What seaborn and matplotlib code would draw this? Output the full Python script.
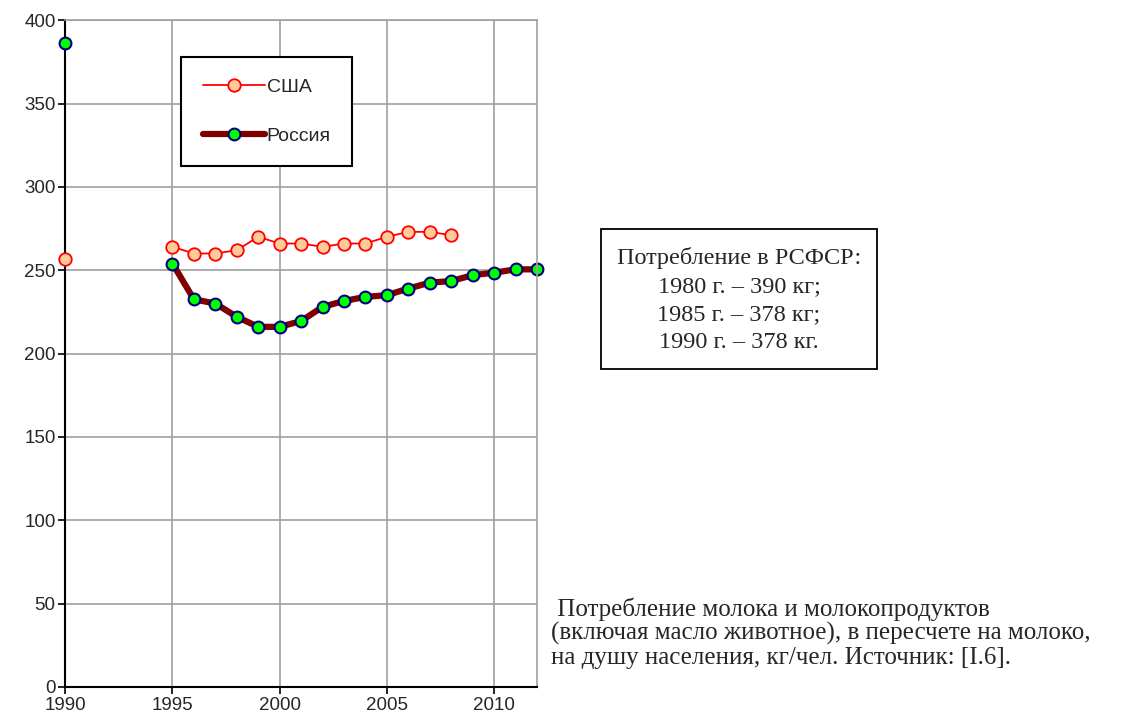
import numpy as np
import pandas as pd
import matplotlib
matplotlib.use("Agg")
import matplotlib.pyplot as plt
import seaborn as sns
from matplotlib.patches import Rectangle

years = [1990] + list(range(1995, 2013))
usa = [257, 264, 260, 260, 262, 270, 266, 266, 264, 266, 266, 270, 273, 273, 271,
       np.nan, np.nan, np.nan, np.nan]
russia = [386, 254, 232.5, 230, 222, 216, 216, 219.5, 228, 231.5, 234, 235, 239,
          242.5, 243.5, 247, 248.5, 250.5, 250.5]

df = pd.DataFrame({"year": years, "США": usa, "Россия": russia})
later = df[df["year"] >= 1995]
first = df[df["year"] == 1990]

sns.set_style("whitegrid")
plt.rcParams["font.family"] = ["Liberation Sans", "DejaVu Sans"]

fig = plt.figure(figsize=(11.45, 7.2), dpi=100)
ax = fig.add_axes([0.057, 0.046, 0.412, 0.926])

usa_kw = dict(color="red", lw=1.3, marker="o", markersize=9,
              markerfacecolor="#FFCC99", markeredgecolor="red", markeredgewidth=1.3)
rus_kw = dict(color="#800000", lw=4.5, marker="o", markersize=8.5,
              markerfacecolor="#00FF00", markeredgecolor="#000080", markeredgewidth=1.5)

sns.lineplot(data=later, x="year", y="США", ax=ax, label="США", **usa_kw)
sns.lineplot(data=later, x="year", y="Россия", ax=ax, label="Россия", **rus_kw)
ax.plot(first["year"], first["США"], ls="none", marker="o", markersize=9,
        markerfacecolor="#FFCC99", markeredgecolor="red", markeredgewidth=1.3, zorder=5)
ax.plot(first["year"], first["Россия"], ls="none", marker="o", markersize=8.5,
        markerfacecolor="#00FF00", markeredgecolor="#000080", markeredgewidth=1.5, zorder=5)
for line in ax.lines:
    line.set_clip_on(False)

ax.set_xlim(1990, 2012)
ax.set_ylim(0, 400)
ax.set_xticks(range(1990, 2011, 5))
ax.set_yticks(range(0, 401, 50))
ax.set_xlabel("")
ax.set_ylabel("")
ax.grid(True, color="#A0A0A0", lw=1.2)
ax.tick_params(axis="both", labelsize=13.5, length=5, width=1.2, color="black",
               direction="out", bottom=True, left=True, pad=2)
for s in ["left", "bottom"]:
    ax.spines[s].set_color("black")
    ax.spines[s].set_linewidth(1.5)
for s in ["top", "right"]:
    ax.spines[s].set_color("#A0A0A0")
    ax.spines[s].set_linewidth(1.2)

leg = ax.legend(loc="upper left", bbox_to_anchor=(0.246, 0.945), fontsize=14,
                frameon=True, fancybox=False, edgecolor="black", framealpha=1,
                handlelength=3.2, handletextpad=0.1, labelspacing=1.6,
                borderpad=1.1, borderaxespad=0)
leg.get_frame().set_linewidth(1.5)

# info box
W, H = 1145, 720
fig.patches.append(Rectangle((601 / W, 1 - 369 / H), 276 / W, 140 / H,
                             transform=fig.transFigure, facecolor="white",
                             edgecolor="black", lw=1.3))
fig.text(739 / W, 1 - 300 / H, "Потребление в РСФСР:\n1980 г. – 390 кг;\n1985 г. – 378 кг;\n1990 г. – 378 кг.",
         family=["Liberation Serif", "DejaVu Serif"], fontsize=17.5, ha="center", va="center",
         linespacing=1.45)

fig.text(0.481, 0.121, " Потребление молока и молокопродуктов\n(включая масло животное), в пересчете на молоко,\nна душу населения, кг/чел. Источник: [I.6].",
         family=["Liberation Serif", "DejaVu Serif"], fontsize=18, ha="left", va="center",
         linespacing=1.08)

fig.savefig("out.png", dpi=100)
